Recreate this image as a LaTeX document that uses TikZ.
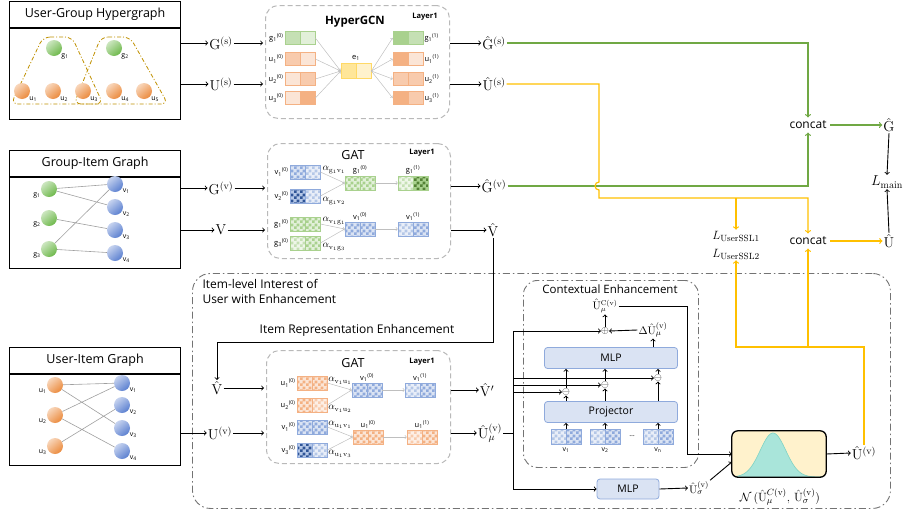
\documentclass[tikz,border=0pt]{standalone}
\usepackage{amsmath}
\usepackage{amssymb}
\usepackage[no-math]{fontspec}
\setmainfont{Open Sans}
\usepackage{tikz}
\usetikzlibrary{positioning,arrows,patterns}

\definecolor{cGrL}{HTML}{E2F0D9}
\definecolor{cGrM}{HTML}{C5E0B4}
\definecolor{cGrD}{HTML}{A9D18E}
\definecolor{cGrX}{HTML}{548235}
\definecolor{cGrB}{HTML}{6DB84A}
\definecolor{cOrL}{HTML}{FBE5D6}
\definecolor{cOrM}{HTML}{F8CBAD}
\definecolor{cOrD}{HTML}{F4B183}
\definecolor{cOrB}{HTML}{EB8A3C}
\definecolor{cBlL}{HTML}{DAE3F3}
\definecolor{cBlM}{HTML}{B4C7E7}
\definecolor{cBlD}{HTML}{8FAADC}
\definecolor{cBlX}{HTML}{2F5597}
\definecolor{cBlB}{HTML}{5A7FD0}
\definecolor{cYeL}{HTML}{FFF2CC}
\definecolor{cYeM}{HTML}{FFE699}
\definecolor{cYeD}{HTML}{FFD966}
\definecolor{cHedge}{HTML}{BF9000}
\definecolor{lineG}{HTML}{70A844}
\definecolor{lineY}{HTML}{FFC000}
\definecolor{cTeal}{HTML}{A9E5DA}
\definecolor{cTealD}{HTML}{7FD3C4}

\pgfdeclarepatternformonly{checks}{\pgfpointorigin}{\pgfqpoint{6pt}{6pt}}{\pgfqpoint{6pt}{6pt}}{%
    \pgfpathrectangle{\pgfpointorigin}{\pgfqpoint{3pt}{3pt}}%
    \pgfpathrectangle{\pgfqpoint{3pt}{3pt}}{\pgfqpoint{3pt}{3pt}}%
    \pgfusepath{fill}}

\begin{document}
\begin{tikzpicture}[x=1pt, y=-1pt, >=to, label distance=0pt,
    pnlHead/.style={draw=black, line width=1.2pt, minimum width=171, minimum height=26, inner sep=0, font=\fontsize{12.5}{14}\selectfont},
    pnlBody/.style={draw=black, line width=1.2pt, minimum width=171, minimum height=91, inner sep=0},
    vert/.style={circle, minimum size=16, inner sep=0, top color=#1!35!white, bottom color=#1, shading angle=40},
    lab/.style={font=\fontsize{7}{8}\selectfont, inner sep=0.5pt},
    glink/.style={draw=gray!75, line width=0.6pt},
    hedge/.style={draw=cHedge, line width=0.8pt, dash pattern=on 4pt off 2pt on 1pt off 2pt, rounded corners=7},
    mth/.style={font=\fontsize{14}{16}\selectfont, inner sep=1pt},
    txt/.style={font=\fontsize{12}{14}\selectfont},
    gcn/.style={draw=gray!55, line width=1pt, dash pattern=on 5pt off 3pt, rounded corners=13, inner sep=0},
    vlab/.style={font=\fontsize{7.5}{8}\selectfont, inner sep=1pt},
    att/.style={font=\fontsize{10}{10}\selectfont, inner sep=0.5pt},
    flow/.style={draw=gray!50, line width=0.5pt},
    arr/.style={->, line width=0.9pt},
    grn/.style={draw=lineG, line width=1.2pt},
    yel/.style={draw=lineY, line width=1.2pt},
    outerbox/.style={draw=gray!90!black, line width=0.9pt, dash pattern=on 7pt off 3pt on 1.5pt off 3pt, rounded corners=18, inner sep=0},
    ctxbox/.style={draw=gray!90!black, line width=0.9pt, dash pattern=on 7pt off 3pt on 1.5pt off 3pt, rounded corners=14, inner sep=0},
    blk/.style={draw=cBlD, fill=cBlL, rounded corners=3, line width=0.8pt, font=\fontsize{10.5}{12}\selectfont, inner sep=0},
    gbox/.style={fill=cYeL, rounded corners=6, minimum width=94, minimum height=46, inner sep=0},
    chk/.style 2 args={fill=#1, postaction={pattern=checks, pattern color=#2}},
    bq1/.style={chk={cBlL!60!white}{cBlM}},
    bq2/.style={chk={cBlL}{cBlD}},
    bq3/.style={chk={cBlM}{cBlX}},
    gq1/.style={chk={cGrL!60!white}{cGrM}},
    gq2/.style={chk={cGrL}{cGrD}},
    gq3/.style={chk={cGrD}{cGrX}},
    oq1/.style={chk={cOrL!60!white}{cOrM}},
    oq2/.style={chk={cOrL}{cOrD}},
    vec/.style n args={3}{draw=#1, line width=0.7pt, minimum width=30, minimum height=14, inner sep=0,
        path picture={
            \fill[#2] (path picture bounding box.south west) rectangle (path picture bounding box.north);
            \fill[#3] (path picture bounding box.south) rectangle (path picture bounding box.north east);
            \draw[#1, line width=0.7pt] (path picture bounding box.south) -- (path picture bounding box.north);
        }}
    ]
    \useasboundingbox (0,0) rectangle (904,517);

    %Input graphs
    \node[pnlHead, anchor=north west] (ugHead) at (9,1) {User-Group Hypergraph};
    \node[pnlBody, below=0pt of ugHead] (ugBody) {};
    \node[pnlHead, anchor=north west] (giHead) at (9,150) {Group-Item Graph};
    \node[pnlBody, below=0pt of giHead] (giBody) {};
    \node[pnlHead, anchor=north west] (uiHead) at (9,347) {User-Item Graph};
    \node[pnlBody, below=0pt of uiHead] (uiBody) {};

    \draw[hedge] (43,37) -- (72,37) -- (103,104) -- (11,104) -- cycle;
    \draw[hedge] (101,37) -- (130,37) -- (168,104) -- (74,104) -- cycle;
    \node[vert=cGrB, label={[lab]-35:g\textsubscript{1}}] (hg1) at (54,48) {};
    \node[vert=cGrB, label={[lab]-35:g\textsubscript{2}}] (hg2) at (114,48) {};
    \node[vert=cOrB, label={[lab]-35:u\textsubscript{1}}] (hu1) at (22,91) {};
    \node[vert=cOrB, label={[lab]-35:u\textsubscript{2}}] (hu2) at (53,91) {};
    \node[vert=cOrB, label={[lab]-35:u\textsubscript{3}}] (hu3) at (83,91) {};
    \node[vert=cOrB, label={[lab]-35:u\textsubscript{4}}] (hu4) at (114,91) {};
    \node[vert=cOrB, label={[lab]-35:u\textsubscript{5}}] (hu5) at (144,91) {};

    \node[vert=cGrB, label={[lab]200:g\textsubscript{1}}] (gg1) at (49,189) {};
    \node[vert=cGrB, label={[lab]200:g\textsubscript{2}}] (gg2) at (49,218) {};
    \node[vert=cGrB, label={[lab]200:g\textsubscript{3}}] (gg3) at (49,249) {};
    \node[vert=cBlB, label={[lab]-30:v\textsubscript{1}}] (gv1) at (115,184) {};
    \node[vert=cBlB, label={[lab]-30:v\textsubscript{2}}] (gv2) at (115,207) {};
    \node[vert=cBlB, label={[lab]-30:v\textsubscript{3}}] (gv3) at (115,230) {};
    \node[vert=cBlB, label={[lab]-30:v\textsubscript{4}}] (gv4) at (115,253) {};
    \draw[glink] (gg1) -- (gv1) (gg1) -- (gv2) (gg2) -- (gv3) (gg3) -- (gv1) (gg3) -- (gv4);

    \node[vert=cOrB, label={[lab]200:u\textsubscript{1}}] (uu1) at (55,385) {};
    \node[vert=cOrB, label={[lab]200:u\textsubscript{2}}] (uu2) at (55,415) {};
    \node[vert=cOrB, label={[lab]200:u\textsubscript{3}}] (uu3) at (55,446) {};
    \node[vert=cBlB, label={[lab]-30:v\textsubscript{1}}] (uv1) at (122,383) {};
    \node[vert=cBlB, label={[lab]-30:v\textsubscript{2}}] (uv2) at (122,405) {};
    \node[vert=cBlB, label={[lab]-30:v\textsubscript{3}}] (uv3) at (122,428) {};
    \node[vert=cBlB, label={[lab]-30:v\textsubscript{4}}] (uv4) at (122,451) {};
    \draw[glink] (uu1) -- (uv1) (uu1) -- (uv3) (uu2) -- (uv1) (uu2) -- (uv4) (uu3) -- (uv2);

    %Inputs
    \node[mth] (gs) at (221,43) {$\mathrm{G}^{(\mathrm{s})}$};
    \node[mth] (us) at (221,84) {$\mathrm{U}^{(\mathrm{s})}$};
    \node[mth] (gv) at (221,188) {$\mathrm{G}^{(\mathrm{v})}$};
    \node[mth] (vv) at (221,230) {$\mathrm{V}$};
    \node[mth] (vh2) at (217,388) {$\hat{\mathrm{V}}$};
    \node[mth] (uvin) at (220,433) {$\mathrm{U}^{(\mathrm{v})}$};

    %HyperGCN
    \node[gcn, minimum width=184, minimum height=113, anchor=north west] (hgcn) at (265,5) {};
    \node[font=\bfseries\fontsize{11.5}{13}\selectfont] (hgcnT) at (355,22) {HyperGCN};
    \node[font=\bfseries\fontsize{7.5}{8}\selectfont] (hgcnL) at (425,17) {Layer1};
    \node[vec={cGrD}{fill=cGrM}{fill=cGrL}, minimum height=13] (x0g1) at (300,38) {};
    \node[vec={cOrD}{fill=cOrM}{fill=cOrL}, minimum height=13] (x0u1) at (300,59) {};
    \node[vec={cOrD}{fill=cOrL}{fill=cOrM}, minimum height=13] (x0u2) at (300,79) {};
    \node[vec={cOrD}{fill=cOrL}{fill=cOrD}, minimum height=13] (x0u3) at (300,98) {};
    \node[vec={cYeD}{fill=cYeM}{fill=cYeL}, minimum height=15] (xe1) at (356,71) {};
    \node[vec={cGrD}{fill=cGrD}{fill=cGrM}, minimum height=13] (x1g1) at (408,38) {};
    \node[vec={cOrD}{fill=cOrD}{fill=cOrL}, minimum height=13] (x1u1) at (408,59) {};
    \node[vec={cOrD}{fill=cOrM}{fill=cOrM}, minimum height=13] (x1u2) at (408,79) {};
    \node[vec={cOrD}{fill=cOrD}{fill=cOrM}, minimum height=13] (x1u3) at (408,98) {};
    \node[vlab, left=0pt of x0g1] (x0g1L) {g\textsubscript{1}\textsuperscript{(0)}};
    \node[vlab, left=0pt of x0u1] (x0u1L) {u\textsubscript{1}\textsuperscript{(0)}};
    \node[vlab, left=0pt of x0u2] (x0u2L) {u\textsubscript{2}\textsuperscript{(0)}};
    \node[vlab, left=0pt of x0u3] (x0u3L) {u\textsubscript{3}\textsuperscript{(0)}};
    \node[vlab, above=1pt of xe1] (xe1L) {e\textsubscript{1}};
    \node[vlab, right=0pt of x1g1] (x1g1L) {g\textsubscript{1}\textsuperscript{(1)}};
    \node[vlab, right=0pt of x1u1] (x1u1L) {u\textsubscript{1}\textsuperscript{(1)}};
    \node[vlab, right=0pt of x1u2] (x1u2L) {u\textsubscript{2}\textsuperscript{(1)}};
    \node[vlab, right=0pt of x1u3] (x1u3L) {u\textsubscript{3}\textsuperscript{(1)}};
    \foreach \n in {x0g1,x0u1,x0u2,x0u3}
        \draw[flow, ->] (\n.east) -- (xe1.west);
    \foreach \n in {x1g1,x1u1,x1u2,x1u3}
        \draw[flow, ->] (xe1.east) -- (\n.west);

    %GAT (group-item)
    \node[gcn, minimum width=183, minimum height=115, anchor=north west] (gat1) at (267,143) {};
    \node[font=\fontsize{12.5}{14}\selectfont] (gat1T) at (353,155) {GAT};
    \node[font=\bfseries\fontsize{7.5}{8}\selectfont] (gat1L) at (422,153) {Layer1};
    \node[vec={cBlD}{bq2}{bq1}] (a1) at (305,172) {};
    \node[vec={cBlD}{bq3}{bq1}] (a2) at (305,196) {};
    \node[vec={cGrD}{gq2}{gq2}] (a3) at (360,183) {};
    \node[vec={cGrD}{gq1}{gq3}] (a4) at (413,183) {};
    \node[vec={cGrD}{gq2}{gq2}] (a5) at (305,224) {};
    \node[vec={cGrD}{gq1}{gq2}] (a6) at (305,243) {};
    \node[vec={cBlD}{bq2}{bq2}] (a7) at (360,229) {};
    \node[vec={cBlD}{bq1}{bq2}] (a8) at (413,229) {};
    \node[vlab, left=0pt of a1] (a1L) {v\textsubscript{1}\textsuperscript{(0)}};
    \node[vlab, left=0pt of a2] (a2L) {v\textsubscript{2}\textsuperscript{(0)}};
    \node[vlab, above=0pt of a3] (a3L) {g\textsubscript{1}\textsuperscript{(0)}};
    \node[vlab, above=0pt of a4] (a4L) {g\textsubscript{1}\textsuperscript{(1)}};
    \node[vlab, left=0pt of a5] (a5L) {g\textsubscript{1}\textsuperscript{(0)}};
    \node[vlab, left=0pt of a6] (a6L) {g\textsubscript{3}\textsuperscript{(0)}};
    \node[vlab, above=0pt of a7] (a7L) {v\textsubscript{1}\textsuperscript{(0)}};
    \node[vlab, above=0pt of a8] (a8L) {v\textsubscript{1}\textsuperscript{(1)}};
    \node[att] (a1A) at (334,170) {$\alpha_{\mathrm{g}_1\mathrm{v}_1}$};
    \node[att] (a2A) at (334,201) {$\alpha_{\mathrm{g}_1\mathrm{v}_2}$};
    \node[att] (a5A) at (334,221) {$\alpha_{\mathrm{v}_1\mathrm{g}_1}$};
    \node[att] (a6A) at (334,247) {$\alpha_{\mathrm{v}_1\mathrm{g}_3}$};
    \draw[flow, ->] (a1.east) -- (a3.west);
    \draw[flow, ->] (a2.east) -- (a3.west);
    \draw[flow, ->] (a3.east) -- (a4.west);
    \draw[flow, ->] (a5.east) -- (a7.west);
    \draw[flow, ->] (a6.east) -- (a7.west);
    \draw[flow, ->] (a7.east) -- (a8.west);

    %GAT (user-item)
    \node[gcn, minimum width=184, minimum height=113, anchor=north west] (gat2) at (266,350) {};
    \node[font=\fontsize{12.5}{14}\selectfont] (gat2T) at (353,363) {GAT};
    \node[font=\bfseries\fontsize{7.5}{8}\selectfont] (gat2L) at (422,362) {Layer1};
    \node[vec={cOrD}{oq2}{oq2}] (b1) at (312,383) {};
    \node[vec={cOrD}{oq2}{oq1}] (b2) at (312,405) {};
    \node[vec={cBlD}{bq2}{bq2}] (b3) at (367,390) {};
    \node[vec={cBlD}{bq1}{bq2}] (b4) at (420,390) {};
    \node[vec={cBlD}{bq2}{bq2}] (b5) at (312,427) {};
    \node[vec={cBlD}{bq3}{bq1}] (b6) at (312,450) {};
    \node[vec={cOrD}{oq2}{oq2}] (b7) at (368,437) {};
    \node[vec={cOrD}{oq1}{oq2}] (b8) at (422,437) {};
    \node[vlab, left=0pt of b1] (b1L) {u\textsubscript{1}\textsuperscript{(0)}};
    \node[vlab, left=0pt of b2] (b2L) {u\textsubscript{2}\textsuperscript{(0)}};
    \node[vlab, above=0pt of b3] (b3L) {v\textsubscript{1}\textsuperscript{(0)}};
    \node[vlab, above=0pt of b4] (b4L) {v\textsubscript{1}\textsuperscript{(1)}};
    \node[vlab, left=0pt of b5] (b5L) {v\textsubscript{1}\textsuperscript{(0)}};
    \node[vlab, left=0pt of b6] (b6L) {v\textsubscript{3}\textsuperscript{(0)}};
    \node[vlab, above=0pt of b7] (b7L) {u\textsubscript{1}\textsuperscript{(0)}};
    \node[vlab, above=0pt of b8] (b8L) {u\textsubscript{1}\textsuperscript{(1)}};
    \node[att] (b1A) at (340,381) {$\alpha_{\mathrm{v}_1\mathrm{u}_1}$};
    \node[att] (b2A) at (340,409) {$\alpha_{\mathrm{v}_1\mathrm{u}_2}$};
    \node[att] (b5A) at (340,425) {$\alpha_{\mathrm{u}_1\mathrm{v}_1}$};
    \node[att] (b6A) at (340,454) {$\alpha_{\mathrm{u}_1\mathrm{v}_3}$};
    \draw[flow, ->] (b1.east) -- (b3.west);
    \draw[flow, ->] (b2.east) -- (b3.west);
    \draw[flow, ->] (b3.east) -- (b4.west);
    \draw[flow, ->] (b5.east) -- (b7.west);
    \draw[flow, ->] (b6.east) -- (b7.west);
    \draw[flow, ->] (b7.east) -- (b8.west);

    %Outputs
    \node[mth] (gsh) at (494,43) {$\hat{\mathrm{G}}^{(\mathrm{s})}$};
    \node[mth] (ush) at (494,84) {$\hat{\mathrm{U}}^{(\mathrm{s})}$};
    \node[mth] (gvh) at (494,186) {$\hat{\mathrm{G}}^{(\mathrm{v})}$};
    \node[mth] (vh) at (493,230) {$\hat{\mathrm{V}}$};
    \node[mth] (vhp) at (487,390) {$\hat{\mathrm{V}}'$};
    \node[mth] (umu) at (490,433) {$\hat{\mathrm{U}}^{(\mathrm{v})}_{\mu}$};

    %Item-level interest
    \node[outerbox, minimum width=698, minimum height=235, anchor=north west] (itemBox) at (192,273) {};
    \node[font=\fontsize{12}{14.5}\selectfont, anchor=north west, align=left] (itemT) at (199,276) {Item-level Interest of\\User with Enhancement};
    \node[txt] (ireT) at (357,330) {Item Representation Enhancement};

    \node[ctxbox, minimum width=175, minimum height=187, anchor=north west] (ctx) at (523,280) {};
    \node[font=\fontsize{11.5}{13}\selectfont] (ctxT) at (610,289) {Contextual Enhancement};
    \node[font=\fontsize{10.5}{12}\selectfont, inner sep=1pt] (ucv) at (605,306) {$\hat{\mathrm{U}}^{\mathrm{C(v)}}_{\mu}$};
    \node[font=\fontsize{10}{10}\selectfont, inner sep=0] (op) at (605,331) {$\oplus$};
    \node[font=\fontsize{11}{13}\selectfont, inner sep=1pt] (dlt) at (653,330) {$\Delta\hat{\mathrm{U}}^{(\mathrm{v})}_{\mu}$};
    \node[blk, minimum width=133, minimum height=21] (mlpA) at (611,358) {MLP};
    \node[blk, minimum width=133, minimum height=21] (proj) at (611,412) {Projector};
    \node[font=\fontsize{10}{10}\selectfont, inner sep=0] (om1) at (566,392) {$\ominus$};
    \node[font=\fontsize{10}{10}\selectfont, inner sep=0] (om2) at (605,385) {$\ominus$};
    \node[font=\fontsize{10}{10}\selectfont, inner sep=0] (om3) at (658,378) {$\ominus$};
    \node[vec={cBlD}{bq1}{bq2}, minimum height=15] (c1) at (566,437) {};
    \node[vec={cBlD}{bq1}{bq2}, minimum height=15] (c2) at (605,437) {};
    \node[vec={cBlD}{bq1}{bq2}, minimum height=15] (cn) at (658,437) {};
    \node[lab] (cdots) at (632,436) {\dots};
    \node[lab, below=2pt of c1] (c1L) {v\textsubscript{1}};
    \node[lab, below=2pt of c2] (c2L) {v\textsubscript{2}};
    \node[lab, below=2pt of cn] (cnL) {v\textsubscript{n}};

    \node[gbox] (gauss) at (779,454) {};
    \begin{scope}
        \clip[rounded corners=6] (gauss.north west) rectangle (gauss.south east);
        \fill[cTeal] (732,477) -- plot[domain=732:826, samples=80, smooth] (\x, {477-44*exp(-(((\x-773)/18)^2))}) -- (826,477) -- cycle;
        \draw[cTealD, line width=0.6pt] plot[domain=732:826, samples=80, smooth] (\x, {477-44*exp(-(((\x-773)/18)^2))});
    \end{scope}
    \draw[line width=1.3pt, rounded corners=6] (gauss.north west) rectangle (gauss.south east);
    \node[mth] (uvout) at (864,453) {$\hat{\mathrm{U}}^{(\mathrm{v})}$};
    \node[blk, minimum width=62, minimum height=20] (mlpB) at (628,489) {MLP};
    \node[font=\fontsize{11}{13}\selectfont, inner sep=1pt] (usig) at (699,488) {$\hat{\mathrm{U}}^{(\mathrm{v})}_{\sigma}$};
    \node[font=\fontsize{12.5}{14}\selectfont] (nlab) at (780,497) {$\mathcal{N}\,(\hat{\mathrm{U}}^{C(\mathrm{v})}_{\mu},\,\hat{\mathrm{U}}^{(\mathrm{v})}_{\sigma})$};

    %Fusion
    \node[txt] (concatG) at (808,125) {concat};
    \node[txt] (concatU) at (808,241) {concat};
    \node[mth] (gfin) at (889,125) {$\hat{\mathrm{G}}$};
    \node[mth] (ufin) at (889,241) {$\hat{\mathrm{U}}$};
    \node[mth] (lmain) at (887,182) {$L_{\mathrm{main}}$};
    \node[font=\fontsize{13}{15}\selectfont, inner sep=1pt] (lssl1) at (736,236) {$L_{\mathrm{UserSSL1}}$};
    \node[font=\fontsize{13}{15}\selectfont, inner sep=1pt] (lssl2) at (736,254) {$L_{\mathrm{UserSSL2}}$};

    %Lines
    \draw[arr] (ugBody.east |- gs) -- (gs.west);
    \draw[arr] (ugBody.east |- us) -- (us.west);
    \draw[arr] (giBody.east |- gv) -- (gv.west);
    \draw[arr] (giBody.east |- vv) -- (vv.west);
    \draw[arr] (uiBody.east |- uvin) -- (uvin.west);
    \draw[arr, shorten >=2pt] (gs.east) -- (hgcn.west |- gs);
    \draw[arr, shorten >=2pt] (us.east) -- (hgcn.west |- us);
    \draw[arr, shorten >=2pt] (gv.east) -- (gat1.west |- gv);
    \draw[arr, shorten >=2pt] (vv.east) -- (gat1.west |- vv);
    \draw[arr, shorten >=2pt] (vh2.east) -- (gat2.west |- vh2);
    \draw[arr, shorten >=2pt] (uvin.east) -- (gat2.west |- uvin);
    \draw[arr] (hgcn.east |- gsh) -- (gsh.west);
    \draw[arr] (hgcn.east |- ush) -- (ush.west);
    \draw[arr] (gat1.east |- gvh) -- (gvh.west);
    \draw[arr] (gat1.east |- vh) -- (vh.west);
    \draw[arr] (gat2.east |- vhp) -- (vhp.west);
    \draw[arr] (gat2.east |- umu) -- (umu.west);

    \coordinate (vbend) at (217,342);
    \draw[arr] (vh.south) |- (vbend) -- (vh2.north);

    \coordinate (ubus) at (513,433);
    \draw[line width=0.9pt] (umu.east) -- (ubus);
    \draw[arr] (ubus) |- (op.west);
    \draw[arr] (ubus) |- (om3.west);
    \draw[arr] (ubus) |- (om2.west);
    \draw[arr] (ubus) |- (om1.west);
    \draw[arr] (ubus) |- (mlpB.west);
    \foreach \c/\m in {c1/om1, c2/om2, cn/om3} {
        \draw[arr] (\c.north) -- (\c.north |- proj.south);
        \draw[arr] (\m |- proj.north) -- (\m.south);
        \draw[arr] (\m.north) -- (\m |- mlpA.south);
    }
    \draw[arr] (mlpA.north -| dlt) -- (dlt.south);
    \draw[arr] (dlt.west) -- (op.east);
    \draw[arr] (op.north) -- (ucv.south);
    \coordinate (cturn) at (687,454);
    \draw[arr] (ucv.east) -| (cturn) -- (gauss.west);
    \draw[arr] (mlpB.east) -- (usig.west);
    \draw[arr] (usig.north east) -- ([yshift=-8pt]gauss.west);
    \draw[arr] (gauss.east) -- (uvout.west);

    \draw[grn, ->] (gsh.east) -| (concatG.north);
    \draw[grn, ->] (gvh.east) -| (concatG.south);
    \draw[yel, ->] (ush.east) -- (599,84) -- (599,182) arc (270:90:4) -- (599,198) -| (concatU.north);
    \draw[yel, ->] (736,198) -- (lssl1.north);
    \coordinate (ybus) at (736,347);
    \draw[yel, ->] (uvout.north) |- (ybus) -- (lssl2.south);
    \draw[yel, ->] (808,347) -- (concatU.south);
    \draw[grn, ->] (concatG.east) -- (gfin.west);
    \draw[yel, ->] (concatU.east) -- (ufin.west);
    \draw[arr] (gfin.south) -- (lmain.north);
    \draw[arr] (ufin.north) -- (lmain.south);
\end{tikzpicture}
\end{document}
